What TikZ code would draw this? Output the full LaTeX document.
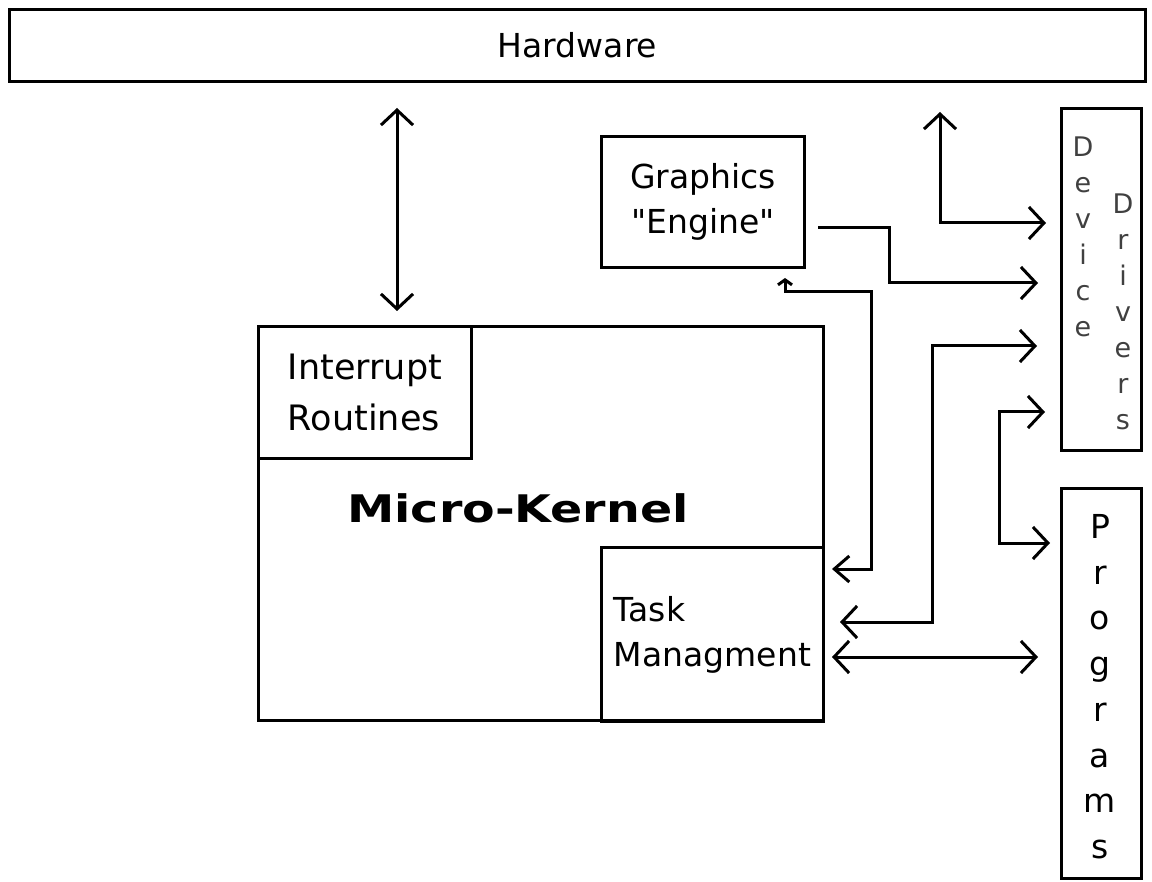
\documentclass[tikz,border=0pt]{standalone}
\usepackage{fontspec}
\setmainfont{DejaVu Sans}
\newfontfamily\widebold[FakeStretch=1.25]{DejaVu Sans Bold}
\usetikzlibrary{arrows.meta}

\begin{document}
\begin{tikzpicture}[x=1pt,y=-1pt,line width=3pt]
          \tikzstyle{every node} = [inner sep=0pt, font=\fontsize{33}{45}\selectfont];
          \tikzstyle{box} = [draw, rectangle];
          \tikzstyle{tip} = [-{Straight Barb[length=15pt,width=32pt]}];
          \tikzstyle{twotip} = [{Straight Barb[length=15pt,width=32pt]}-{Straight Barb[length=15pt,width=32pt]}];
          \useasboundingbox (0,0) rectangle (1152,882);
          % boxes
          \node[box, minimum width=1136pt, minimum height=72pt](hw) at (577.5,45.5) {Hardware};
          \node[box, minimum width=203pt, minimum height=131pt, align=center](ge) at (703,202) {Graphics\\\textquotedbl Engine\textquotedbl};
          \node[box, minimum width=80pt, minimum height=342pt](dd) at (1101.5,279.5) {};
          \node[box, minimum width=80pt, minimum height=390pt](pr) at (1101.5,683.5) {};
          \node[box, minimum width=565pt, minimum height=394pt](mk) at (541,523.5) {};
          \node[box, minimum width=213pt, minimum height=132pt, align=left,
                font=\fontsize{35}{51}\selectfont](ir) at (365,392.5) {Interrupt\\Routines};
          \node[box, minimum width=222pt, minimum height=174pt, align=left](tm) at (712.5,634.5) {Task\\Managment};
          % texts
          \node[font=\widebold\fontsize{38}{46}\selectfont](mkl) at (518,508) {Micro-Kernel};
          \node[anchor=north, align=center, text=black!75,
                font=\fontsize{27}{36}\selectfont](dev) at (1083,135) {D\\e\\v\\i\\c\\e};
          \node[anchor=north, align=center, text=black!75,
                font=\fontsize{27}{36}\selectfont](drv) at (1123,192) {D\\r\\i\\v\\e\\r\\s};
          \node[anchor=north, align=center,
                font=\fontsize{33}{45.7}\selectfont](prl) at (1100,513) {P\\r\\o\\g\\r\\a\\m\\s};
          % connector ends
          \coordinate (hwlow) at (397,108);
          \coordinate (irtop) at (397,311);
          \coordinate (hwup) at (940,112);
          \coordinate (dd1) at (1046,223);
          \coordinate (geout) at (818,228);
          \coordinate (dd2) at (1038,283);
          \coordinate (gein) at (785,278);
          \coordinate (tm1) at (832,569);
          \coordinate (tm2) at (840,622);
          \coordinate (dd3) at (1037,346);
          \coordinate (dd4) at (1045,412);
          \coordinate (pr1) at (1050,543);
          \coordinate (tm3) at (832,657);
          \coordinate (pr2) at (1038,657);
          % connectors
          \draw[twotip] (hwlow) -- (irtop);
          \draw[twotip] (hwup) |- (dd1);
          \draw[tip] (geout) -| (889,255) |- (dd2);
          \draw[{Straight Barb[length=5pt,width=14pt]}-{Straight Barb[length=15pt,width=26pt]}]
                (gein) |- (871,292) |- (tm1);
          \draw[twotip] (tm2) -| (932,480) |- (dd3);
          \draw[twotip] (dd4) -| (999,480) |- (pr1);
          \draw[twotip] (tm3) -- (pr2);
          \end{tikzpicture}
\end{document}
